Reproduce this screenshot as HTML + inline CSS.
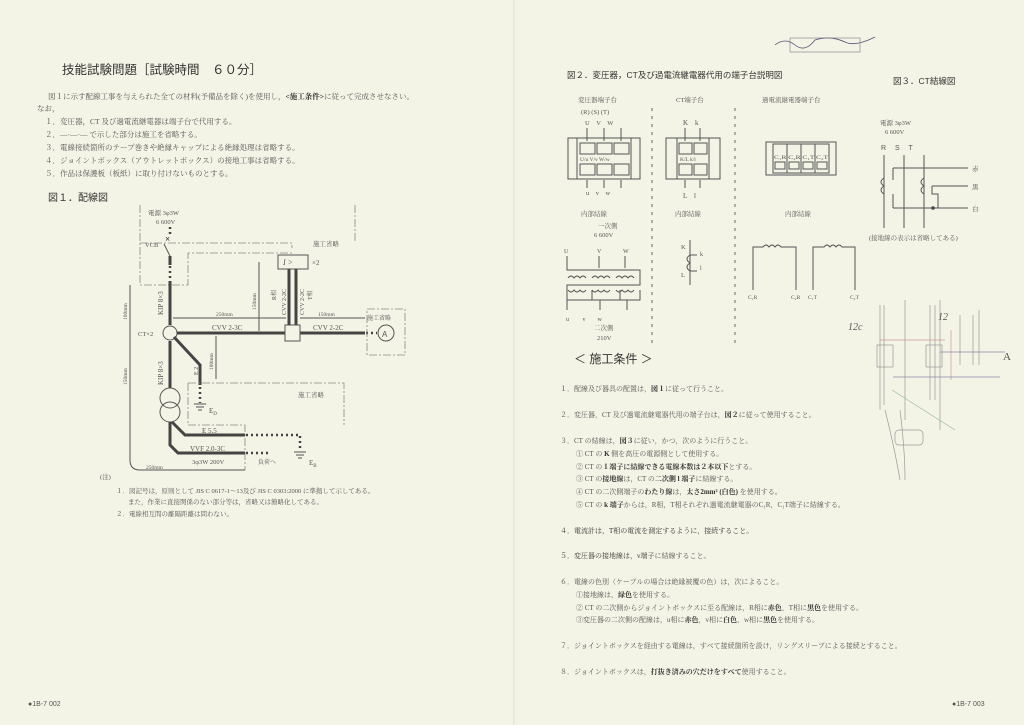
<!DOCTYPE html>
<html><head><meta charset="utf-8">
<style>
html,body{margin:0;padding:0;background:#f4f4e6;}
svg{display:block}
text{font-family:"Liberation Serif","Noto Serif CJK SC","Noto Sans CJK JP",serif;fill:#555;}
.g{font-family:"Liberation Sans","Noto Sans CJK JP",sans-serif;}
.b{fill:#333;}
.ln{stroke:#555;fill:none;stroke-width:1}
.th{stroke:#444;fill:none;stroke-width:3}
.dd{stroke:#888;fill:none;stroke-width:0.8;stroke-dasharray:8 2 2 2}
.dot{stroke:#444;fill:none;stroke-width:2.5;stroke-dasharray:2 3}
</style></head>
<body>
<svg width="1024" height="725" viewBox="0 0 1024 725" xmlns="http://www.w3.org/2000/svg">
<rect width="1024" height="725" fill="#f4f4e6"/>
<path d="M514 0 V725" stroke="#e6e6d8" stroke-width="1.5"/>

<!-- LEFT PAGE -->
<text x="62" y="74" font-size="12.5" class="g b">技能試験問題［試験時間　６０分］</text>
<g font-size="7.5">
<text x="48" y="99">図１に示す配線工事を与えられた全ての材料(予備品を除く)を使用し，<tspan class="b" font-weight="bold">&lt;施工条件&gt;</tspan>に従って完成させなさい。</text>
<text x="37" y="111">なお，</text>
<text x="45" y="124">１．変圧器，CT 及び過電流継電器は端子台で代用する。</text>
<text x="45" y="137">２．—·—·— で示した部分は施工を省略する。</text>
<text x="45" y="150">３．電線接続箇所のテープ巻きや絶縁キャップによる絶縁処理は省略する。</text>
<text x="45" y="163">４．ジョイントボックス（アウトレットボックス）の接地工事は省略する。</text>
<text x="45" y="176">５．作品は保護板（板紙）に取り付けないものとする。</text>
</g>
<text x="48" y="201" font-size="10" class="g b">図１．配線図</text>

<!-- Fig1 -->
<g>
<path class="dd" d="M140 205 V285 H188 V253 H292"/>
<path class="dd" d="M140 243 H292 V248"/>
<path class="dd" d="M355 205 V243"/>
<text x="313" y="246" font-size="6.5">施工省略</text>
<text x="148" y="215" font-size="6.5">電源 3φ3W</text>
<text x="156" y="224" font-size="6.5">6 600V</text>
<path class="dot" d="M170 227 V236"/>
<text x="165" y="242" font-size="9" class="b" font-weight="bold">×</text>
<path class="ln" d="M164 244 L170 256" stroke-width="2"/>
<text x="145" y="247" font-size="6.5">VCB</text>
<path class="th" d="M170 256 V265"/>
<path class="dot" d="M170 266 V280"/>
<path class="th" d="M170 281 V325 M170 341 V388"/>
<text x="163" y="315" font-size="7" transform="rotate(-90 163 315)">KIP 8×3</text>
<text x="163" y="385" font-size="7" transform="rotate(-90 163 385)">KIP 8×3</text>
<circle cx="170" cy="333" r="7" class="ln" stroke-width="1.3"/>
<text x="138" y="336" font-size="6.5">CT×2</text>
<path class="th" d="M177 333 H285 M300 333 H365"/>
<path class="dot" d="M366 333 H377"/>
<circle cx="386" cy="333" r="8" class="ln" stroke-width="1.2"/>
<text x="382" y="337" font-size="8" class="g">A</text>
<rect x="285" y="325" width="15" height="16" class="ln"/>
<rect x="278" y="255" width="30" height="14" class="ln"/>
<text x="283" y="265" font-size="8" font-style="italic">I &gt;</text>
<text x="312" y="265" font-size="7">×2</text>
<path class="th" d="M289 269 V325 M296 269 V325" stroke-width="1.5"/>
<text x="286" y="315" font-size="6" transform="rotate(-90 286 315)">CVV 2-2C</text>
<text x="304" y="315" font-size="6" transform="rotate(-90 304 315)">CVV 2-2C</text>
<text x="276" y="300" font-size="6" transform="rotate(-90 276 300)">R相</text>
<text x="312" y="300" font-size="6" transform="rotate(-90 312 300)">T相</text>
<path class="ln" d="M259 262 V331" stroke-width="0.5"/>
<text x="256" y="310" font-size="5.5" transform="rotate(-90 256 310)">150mm</text>
<path class="ln" d="M173 318 H286 M300 318 H365" stroke-width="0.5"/>
<text x="216" y="316" font-size="5.5">250mm</text>
<text x="318" y="316" font-size="5.5">150mm</text>
<text x="212" y="330" font-size="7">CVV 2-3C</text>
<text x="313" y="330" font-size="7">CVV 2-2C</text>
<path class="dd" d="M367 309 H405 V355 H367 Z"/>
<text x="367" y="320" font-size="6">施工省略</text>
<path class="th" d="M174 337 L200 365 V385" stroke-width="2.5"/>
<path class="dot" d="M200 387 V403"/>
<text x="198" y="375" font-size="6" transform="rotate(-90 198 375)">E 2</text>
<path class="ln" d="M194 404 H206 M196 407 H204 M198 410 H202"/>
<text x="209" y="413" font-size="7">E<tspan font-size="5" dy="2">D</tspan></text>
<path class="ln" d="M216 336 V379" stroke-width="0.5"/>
<text x="213" y="370" font-size="5.5" transform="rotate(-90 213 370)">100mm</text>
<path class="dd" d="M188 383 H344 V425 M188 383 V425 H245 V470"/>
<text x="298" y="397" font-size="6.5">施工省略</text>
<circle cx="170" cy="398" r="10" class="ln" stroke-width="1.2"/>
<circle cx="170" cy="412" r="10" class="ln" stroke-width="1.2"/>
<path class="th" d="M170 422 V445 L178 453 H245 M172 422 L185 435 H245"/>
<path class="dot" d="M246 435 H300 V450 M246 453 H268"/>
<path class="ln" d="M294 452 H306 M296 455 H304 M298 458 H302"/>
<text x="309" y="465" font-size="7">E<tspan font-size="5" dy="2">B</tspan></text>
<text x="202" y="433" font-size="7">E 5.5</text>
<text x="190" y="451" font-size="7">VVF 2.0-3C</text>
<text x="192" y="464" font-size="6.5">3φ3W 200V</text>
<text x="258" y="464" font-size="6">負荷へ</text>
<path class="ln" d="M130 285 V460 Q130 470 140 470 H245" stroke-width="0.5"/>
<text x="127" y="320" font-size="5.5" transform="rotate(-90 127 320)">100mm</text>
<text x="127" y="385" font-size="5.5" transform="rotate(-90 127 385)">150mm</text>
<text x="146" y="469" font-size="5.5">250mm</text>
</g>
<g font-size="6.5">
<text x="100" y="479">(注)</text>
<text x="116" y="493">１．図記号は，原則として JIS C 0617-1〜13及び JIS C 0303:2000 に準拠して示してある。</text>
<text x="128" y="504">また，作業に直接関係のない部分等は，省略又は簡略化してある。</text>
<text x="116" y="516">２．電線相互間の離隔距離は問わない。</text>
</g>
<text x="28" y="706" font-size="7" class="g">●1B-7 002</text>

<!-- RIGHT PAGE -->
<text x="567" y="78" font-size="8.5" class="g b">図２．変圧器，CT及び過電流継電器代用の端子台説明図</text>
<text x="893" y="84" font-size="8.5" class="g b">図３．CT結線図</text>
<path d="M775 45 q10 -8 20 0 q10 8 20 -5 q15 -5 30 2 q10 5 30 -5" stroke="#557" fill="none" stroke-width="0.8"/>
<rect x="790" y="38" width="70" height="14" fill="none" stroke="#778" stroke-width="0.6"/>
<g font-size="6.5" class="g">
<text x="578" y="102">変圧器端子台</text>
<text x="676" y="102">CT端子台</text>
<text x="762" y="102">過電流継電器端子台</text>
<text x="581" y="114">(R) (S) (T)</text>
<text x="585" y="125">U　V　W</text>
<text x="586" y="195">u　v　w</text>
<text x="581" y="216">内部結線</text>
<text x="675" y="216">内部結線</text>
<text x="785" y="216">内部結線</text>
</g>
<rect x="568" y="138" width="72" height="41" class="ln" stroke-width="0.7"/>
<rect x="577" y="138" width="54" height="41" class="ln" stroke-width="0.7"/>
<g class="ln" stroke-width="0.7">
<rect x="580" y="143" width="15" height="11"/><rect x="597" y="143" width="15" height="11"/><rect x="614" y="143" width="15" height="11"/>
<rect x="580" y="164" width="15" height="11"/><rect x="597" y="164" width="15" height="11"/><rect x="614" y="164" width="15" height="11"/>
<rect x="666" y="138" width="54" height="41"/><rect x="677" y="138" width="32" height="41"/>
<rect x="679" y="143" width="13" height="11"/><rect x="694" y="143" width="13" height="11"/>
<rect x="679" y="164" width="13" height="11"/><rect x="694" y="164" width="13" height="11"/>
<rect x="766" y="142" width="70" height="33"/><rect x="773" y="144" width="56" height="29"/>
<path d="M587 128 V141 M604 128 V141 M621 128 V141 M587 180 V188 M604 180 V188 M621 180 V188 M685 128 V141 M700 128 V141 M685 180 V188 M700 180 V188 M787 144 V173 M801 144 V173 M815 144 V173"/>
<rect x="775" y="162" width="10" height="7"/><rect x="789" y="162" width="10" height="7"/><rect x="803" y="162" width="10" height="7"/><rect x="817" y="162" width="10" height="7"/>
</g>
<text x="580" y="161" font-size="5.5">U/u  V/v  W/w</text>
<text x="680" y="161" font-size="5.5">K/L  k/l</text>
<text x="774" y="159" font-size="4.8" textLength="54" lengthAdjust="spacingAndGlyphs">C₁R C₂R C₁T C₂T</text>
<text x="683" y="125" font-size="7">K　k</text>
<text x="683" y="198" font-size="7">L　l</text>
<path d="M652 108 V345 M735 108 V345" stroke="#666" stroke-width="1" stroke-dasharray="3 5"/>
<!-- transformer internal -->
<text x="598" y="228" font-size="6.5">一次側</text>
<text x="594" y="237" font-size="6.5">6 600V</text>
<text x="564" y="253" font-size="6">U</text><text x="597" y="253" font-size="6">V</text><text x="623" y="253" font-size="6">W</text>
<g class="ln" stroke-width="0.7">
<path d="M567 256 V270 H640 V285 H567 V310 M599 256 V268 M625 256 V268"/>
<path d="M568 278 q3 -4 6 0 q3 -4 6 0 q3 -4 6 0 M592 278 q3 -4 6 0 q3 -4 6 0 q3 -4 6 0 M616 278 q3 -4 6 0 q3 -4 6 0 q3 -4 6 0"/>
<path d="M568 290 q3 4 6 0 q3 4 6 0 q3 4 6 0 M592 290 q3 4 6 0 q3 4 6 0 q3 4 6 0 M616 290 q3 4 6 0 q3 4 6 0 q3 4 6 0"/>
<path d="M592 290 V300 H600 V310 M620 290 V300 H627 V310 M567 300 H640 V290"/>
</g>
<text x="566" y="321" font-size="6">u　　 v　　w</text>
<text x="594" y="330" font-size="6.5">二次側</text>
<text x="597" y="340" font-size="6.5">210V</text>
<!-- CT internal -->
<path class="ln" d="M690 240 V285 M690 255 q-6 4 0 8 q-6 4 0 8 M690 255 H697 M690 271 H697" stroke-width="0.8"/>
<text x="681" y="249" font-size="6.5">K</text><text x="681" y="277" font-size="6.5">L</text>
<text x="700" y="256" font-size="6">k</text><text x="700" y="270" font-size="6">l</text>
<!-- relay internal -->
<path class="ln" stroke-width="0.8" d="M753 290 V247 H763 q3 -4 6 0 q3 -4 6 0 q3 -4 6 0 H796 V290 M813 290 V247 H824 q3 -4 6 0 q3 -4 6 0 q3 -4 6 0 H855 V290"/>
<g font-size="5.5"><text x="748" y="299">C₁R</text><text x="791" y="299">C₂R</text><text x="808" y="299">C₁T</text><text x="850" y="299">C₂T</text></g>
<!-- Fig3 -->
<text x="880" y="125" font-size="6.5">電源 3φ3W</text>
<text x="885" y="134" font-size="6.5">6 600V</text>
<text x="881" y="150" font-size="7" class="g">R　 S　 T</text>
<path class="ln" d="M884 155 V228 M904 155 V228 M924 155 V228 M893 168 H968 M932 186 H968 M893 208 H968 M893 168 V180 M884 178 q-6 4 0 8 q-6 4 0 8 M893 194 V208 M924 178 q-6 4 0 8 q-6 4 0 8 M932 186 V194 H938 V208" stroke-width="0.9"/>
<circle cx="933" cy="208" r="1.8" fill="#444"/>
<text x="972" y="171" font-size="6.5">赤</text><text x="972" y="189" font-size="6.5">黒</text><text x="972" y="211" font-size="6.5">白</text>
<text x="869" y="240" font-size="6.5">(接地線の表示は省略してある)</text>
<!-- pencil sketch -->
<g stroke="#999" fill="none" stroke-width="0.7">
<path d="M880 305 V410 M884 305 V405 M905 300 V420 M930 305 V400 M935 305 V400 M940 300 V430"/>
<rect x="877" y="345" width="16" height="22"/><rect x="926" y="345" width="16" height="22"/>
<path d="M885 410 q10 40 15 70 M900 410 q5 40 5 70"/>
<rect x="895" y="430" width="28" height="15" rx="4"/>
<path d="M960 315 V365 M973 315 V365 M979 310 V365"/>
</g>
<path d="M880 340 H945 M951 330 V380" stroke="#c99" fill="none" stroke-width="0.7"/>
<path d="M893 377 H1000 M940 352 H1005" stroke="#88a" fill="none" stroke-width="0.7"/>
<path d="M892 390 L955 430" stroke="#9b9" fill="none" stroke-width="0.7"/>
<text x="848" y="330" font-size="10" fill="#888" font-style="italic">12c</text>
<text x="938" y="320" font-size="10" fill="#888" font-style="italic">12</text>
<text x="1003" y="360" font-size="11" fill="#888">A</text>
<!-- conditions -->
<text x="574" y="363" font-size="12" class="g b">＜ 施工条件 ＞</text>
<g font-size="7">
<text x="560" y="391">１．配線及び器具の配置は，<tspan class="b" font-weight="bold">図１</tspan>に従って行うこと。</text>
<text x="560" y="417">２．変圧器，CT 及び過電流継電器代用の端子台は，<tspan class="b" font-weight="bold">図２</tspan>に従って使用すること。</text>
<text x="560" y="443">３．CT の結線は，<tspan class="b" font-weight="bold">図３</tspan>に従い，かつ，次のように行うこと。</text>
<text x="576" y="456">① CT の <tspan class="b" font-weight="bold">K</tspan> 側を高圧の電源側として使用する。</text>
<text x="576" y="469">② CT の<tspan class="b" font-weight="bold">１端子に結線できる電線本数は２本以下</tspan>とする。</text>
<text x="576" y="481">③ CT の<tspan class="b" font-weight="bold">接地線</tspan>は，CT の<tspan class="b" font-weight="bold">二次側 l 端子</tspan>に結線する。</text>
<text x="576" y="494">④ CT の二次側端子の<tspan class="b" font-weight="bold">わたり線</tspan>は，<tspan class="b" font-weight="bold">太さ2mm² (白色)</tspan> を使用する。</text>
<text x="576" y="507">⑤ CT の <tspan class="b" font-weight="bold">k 端子</tspan>からは，R相，T相それぞれ過電流継電器のC₁R，C₁T端子に結線する。</text>
<text x="560" y="533" class="b">４．電流計は，T相の電流を測定するように，接続すること。</text>
<text x="560" y="558"><tspan class="b">５．変圧器の接地線は，v端子</tspan>に結線すること。</text>
<text x="560" y="584">６．電線の色別（ケーブルの場合は絶縁被覆の色）は，次によること。</text>
<text x="576" y="597">①接地線は，<tspan class="b" font-weight="bold">緑色</tspan>を使用する。</text>
<text x="576" y="610">② CT の二次側からジョイントボックスに至る配線は，R相に<tspan class="b" font-weight="bold">赤色</tspan>，T相に<tspan class="b" font-weight="bold">黒色</tspan>を使用する。</text>
<text x="576" y="622">③変圧器の二次側の配線は，u相に<tspan class="b" font-weight="bold">赤色</tspan>，v相に<tspan class="b" font-weight="bold">白色</tspan>，w相に<tspan class="b" font-weight="bold">黒色</tspan>を使用する。</text>
<text x="560" y="648">７．ジョイントボックスを経由する電線は，すべて接続箇所を設け，リングスリーブによる接続とすること。</text>
<text x="560" y="674">８．ジョイントボックスは，<tspan class="b" font-weight="bold">打抜き済みの穴だけをすべて</tspan>使用すること。</text>
</g>
<text x="952" y="706" font-size="7" class="g">●1B-7 003</text>
</svg>
</body></html>
